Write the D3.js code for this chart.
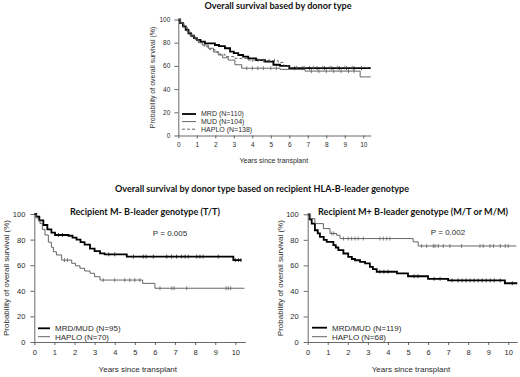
<!DOCTYPE html>
<html>
<head>
<meta charset="utf-8">
<script src="https://cdn.jsdelivr.net/npm/d3@7"></script>
<style>
	body { margin: 0; background: #fff; }
	svg { display: block; }
</style>
</head>
<body>
<div id="chart"></div>
<script>
// ---- data ----
const yearTicks = [0, 1, 2, 3, 4, 5, 6, 7, 8, 9, 10]
const survTicks = [0, 20, 40, 60, 80, 100]

const topTitle = "Overall survival based by donor type"
const bottomTitle = "Overall survival by donor type based on recipient HLA-B-leader genotype"
const leftSubtitle = "Recipient M- B-leader genotype (T/T)"
const rightSubtitle = "Recipient M+ B-leader genotype (M/T or M/M)"
const leftP = "P = 0.005"
const rightP = "P = 0.002"
const xLabel = "Years since transplant"
const yLabel = "Probability of overall survival (%)"

// top panel: [years, survival %]
const mrdAll = [[0,100],[0.1,97],[0.25,94],[0.4,91],[0.55,88],[0.7,86],[0.85,84],[1.0,82.5],[1.2,81],[1.44,79.5],[1.98,78],[2.2,77],[2.52,75.2],[2.8,72.3],[3.0,71],[3.24,69.4],[3.5,68],[3.78,66.5],[4.2,65],[4.69,63.6],[5.14,61],[5.5,60],[6.0,58],[10.4,58]]
const mudAll = [[0,100],[0.1,97],[0.3,93],[0.5,89],[0.7,86],[0.9,83],[1.08,80],[1.3,78],[1.62,75.2],[1.9,72],[2.16,69.4],[2.4,67],[2.7,65],[3.06,61],[3.43,58],[5.5,57],[6.85,55.5],[9.83,50.5],[10.4,50.5]]
const haploAll = [[0,100],[0.15,97],[0.3,93],[0.45,90],[0.6,87],[0.8,84],[1.1,80],[1.4,76.5],[1.7,74],[1.98,72],[2.25,70],[2.52,68],[3.06,66.5],[3.78,65],[4.5,64.5],[5.4,63],[5.7,60],[6.0,58.5],[10.4,58.5]]
const mrdAllCens = [6.3, 6.7, 7.1, 7.5, 7.9, 8.3, 8.7, 9.1, 9.5, 9.9]
const mudAllCens = [3.7, 4.0, 4.3, 4.6, 5.0, 5.3, 7.2, 7.6, 8.0, 8.4, 8.8, 9.2, 9.5]
const haploAllCens = [4.0, 4.3, 4.6, 4.9, 5.2, 6.4, 6.8, 7.3, 7.8, 8.2, 8.6, 9.0, 9.4]

// bottom left (M-)
const mrdMudNeg = [[0,100],[0.1,98],[0.25,95],[0.45,91.4],[0.65,88],[0.85,85.5],[1.03,83.6],[1.7,83],[1.9,81.5],[2.1,80],[2.3,78],[2.5,76],[2.77,73],[3.0,71],[3.27,69.3],[3.5,68.5],[4.6,66.7],[9.9,64],[10.3,64]]
const haploNeg = [[0,100],[0.1,97],[0.2,95],[0.28,92.7],[0.4,88],[0.53,83.6],[0.7,78],[0.85,74],[0.95,70.5],[1.1,68],[1.36,64],[1.86,61.5],[2.05,59.5],[2.27,57.6],[2.5,55.5],[2.77,53.7],[3.0,51],[3.27,48.4],[5.39,45.8],[6.0,42],[10.45,42]]
const mrdMudNegCens = [1.2, 1.4, 3.7, 4.0, 4.93, 5.42, 5.56, 5.92, 6.59, 6.83, 7.08, 7.33, 7.5, 7.66, 8.08, 8.24, 8.4, 9.15, 10.0, 10.15, 10.28]
const haploNegCens = [1.5, 1.65, 3.43, 4.0, 4.5, 4.75, 5.0, 5.25, 6.25, 6.84, 6.95, 7.58, 9.54, 9.65, 9.77]

// bottom right (M+)
const mrdMudPos = [[0,100],[0.1,96],[0.2,92.7],[0.36,87.5],[0.5,85],[0.61,82.3],[0.8,80],[0.95,78.4],[1.28,75.8],[1.4,74],[1.53,71.9],[1.78,69.3],[2.02,66.6],[2.2,65],[2.36,64],[2.61,62.7],[2.86,61.5],[3.1,58.8],[3.25,57],[3.44,55],[4.45,53.7],[5.0,51.5],[6.0,49.5],[7.0,48.2],[9.83,46],[10.45,46]]
const haploPos = [[0,100],[0.11,96.6],[0.36,92.7],[0.78,88.8],[1.11,85],[1.44,83.6],[1.61,81],[5.26,78.4],[5.51,75.2],[10.4,75.2]]
const mrdMudPosCens = [3.6, 3.8, 4.0, 5.3, 5.5, 6.3, 6.6, 7.2, 7.5, 7.7, 7.9, 8.1, 8.3, 8.5, 8.7, 8.9, 9.1, 9.3, 9.6, 10.2]
const haploPosCens = [1.2, 1.3, 1.78, 2.02, 2.19, 2.36, 2.52, 2.77, 3.6, 3.77, 3.94, 4.1, 5.68, 5.93, 6.26, 6.35, 6.51, 6.76, 7.09, 7.67, 8.59, 8.75, 9.09, 9.26, 9.6, 9.85, 10.0]

const legendTop = ["MRD (N=110)", "MUD (N=104)", "HAPLO (N=138)"]
const legendNeg = ["MRD/MUD (N=95)", "HAPLO (N=70)"]
const legendPos = ["MRD/MUD (N=119)", "HAPLO (N=68)"]

// ---- drawing ----
const W = 520, H = 377
const axisFont = "'Liberation Sans', Arial, sans-serif"
const titleFont = "Lato, 'Open Sans', sans-serif"
const ink = "#2b2b2b"
const thin = "#555"

const svg = d3.select("#chart").append("svg").attr("width", W).attr("height", H)

function title(text, x, y, size, len) {
	svg.append("text")
		.attr("x", x).attr("y", y)
		.attr("text-anchor", "middle")
		.attr("font-family", titleFont)
		.attr("font-weight", 700)
		.attr("font-size", size)
		.attr("textLength", len)
		.attr("lengthAdjust", "spacingAndGlyphs")
		.attr("fill", "#111")
		.text(text)
}

function panel(p) {
	const x = d3.scaleLinear().domain([0, p.xMax]).range([p.x0, p.x1])
	const y = d3.scaleLinear().domain([0, 100]).range([p.y0, p.y1])
	const g = svg.append("g")

	const xAxis = g.append("g")
		.attr("transform", `translate(0,${p.y0})`)
		.call(d3.axisBottom(x).tickValues(yearTicks).tickSize(3).tickSizeOuter(0).tickPadding(p.pad))
	const yAxis = g.append("g")
		.attr("transform", `translate(${p.x0},0)`)
		.call(d3.axisLeft(y).tickValues(survTicks).tickSize(4).tickSizeOuter(0).tickPadding(p.pad))
	;[xAxis, yAxis].forEach((a) => {
		a.selectAll("path, line").attr("stroke", "#444").attr("stroke-width", 0.8)
		a.selectAll("text").attr("font-family", axisFont).attr("font-size", p.tickFont).attr("fill", ink)
	})

	g.append("text")
		.attr("x", (x(0) + x(10)) / 2 + 3).attr("y", p.xLabelY)
		.attr("text-anchor", "middle")
		.attr("font-family", axisFont).attr("font-size", p.labelFont).attr("fill", ink)
		.text(xLabel)
	g.append("text")
		.attr("transform", `translate(${p.yLabelX},${(p.y0 + p.y1) / 2}) rotate(-90)`)
		.attr("text-anchor", "middle")
		.attr("font-family", axisFont).attr("font-size", p.labelFont).attr("fill", ink)
		.text(yLabel)

	const line = d3.line().x((d) => x(d[0])).y((d) => y(d[1])).curve(d3.curveStepAfter)

	p.series.forEach((s) => {
		g.append("path")
			.datum(s.data)
			.attr("fill", "none")
			.attr("stroke", s.color)
			.attr("stroke-width", s.width)
			.attr("stroke-dasharray", s.dash || null)
			.attr("d", line)

		// censor marks sit on the step level at that time
		const level = (t) => {
			let v = s.data[0][1]
			s.data.forEach((d) => { if (d[0] <= t) v = d[1] })
			return v
		}
		g.append("g").selectAll("line")
			.data(s.cens)
			.join("line")
			.attr("x1", (t) => x(t)).attr("x2", (t) => x(t))
			.attr("y1", (t) => y(level(t)) - 2).attr("y2", (t) => y(level(t)) + 2)
			.attr("stroke", s.color)
			.attr("stroke-width", 0.7)
	})

	const leg = g.append("g")
	p.series.forEach((s, i) => {
		const ly = p.legY + i * p.legStep
		leg.append("line")
			.attr("x1", p.legX).attr("x2", p.legX + p.legLine)
			.attr("y1", ly).attr("y2", ly)
			.attr("stroke", s.color)
			.attr("stroke-width", s.width)
			.attr("stroke-dasharray", s.dash || null)
		leg.append("text")
			.attr("x", p.legX + p.legLine + 5).attr("y", ly)
			.attr("dy", "0.35em")
			.attr("font-family", axisFont).attr("font-size", p.labelFont).attr("fill", ink)
			.text(p.legend[i])
	})

	if (p.pText) {
		g.append("text")
			.attr("x", p.pX).attr("y", p.pY)
			.attr("text-anchor", "middle")
			.attr("font-family", axisFont).attr("font-size", p.labelFont).attr("fill", ink)
			.text(p.pText)
	}
}

title(topTitle, 278, 8.5, 9.5, 147)
title(bottomTitle, 262, 191.5, 9.5, 294)
title(leftSubtitle, 145, 215, 9.5, 150)
title(rightSubtitle, 413, 215, 9.5, 190)

panel({
	x0: 178.3, x1: 370.7, xMax: 10.4, y0: 135.5, y1: 19.5,
	pad: 4, tickFont: 6.5, labelFont: 7, xLabelY: 163, yLabelX: 155,
	legX: 182, legY: 114, legStep: 7.6, legLine: 14, legend: legendTop,
	series: [
		{ data: mrdAll, cens: mrdAllCens, color: "#000", width: 1.8 },
		{ data: mudAll, cens: mudAllCens, color: thin, width: 0.9 },
		{ data: haploAll, cens: haploAllCens, color: thin, width: 0.9, dash: "3,2" },
	],
})

panel({
	x0: 34.3, x1: 245.4, xMax: 10.5, y0: 342, y1: 214,
	pad: 5, tickFont: 7.5, labelFont: 8, xLabelY: 372, yLabelX: 9,
	legX: 38, legY: 328.3, legStep: 8.4, legLine: 12, legend: legendNeg,
	pText: leftP, pX: 170, pY: 236,
	series: [
		{ data: mrdMudNeg, cens: mrdMudNegCens, color: "#000", width: 1.8 },
		{ data: haploNeg, cens: haploNegCens, color: thin, width: 0.9 },
	],
})

panel({
	x0: 307.7, x1: 517.3, xMax: 10.45, y0: 342, y1: 214.3,
	pad: 5, tickFont: 7.5, labelFont: 8, xLabelY: 372, yLabelX: 283,
	legX: 312, legY: 327.7, legStep: 9, legLine: 15, legend: legendPos,
	pText: rightP, pX: 448, pY: 235,
	series: [
		{ data: mrdMudPos, cens: mrdMudPosCens, color: "#000", width: 1.8 },
		{ data: haploPos, cens: haploPosCens, color: thin, width: 0.9 },
	],
})
</script>
</body>
</html>
